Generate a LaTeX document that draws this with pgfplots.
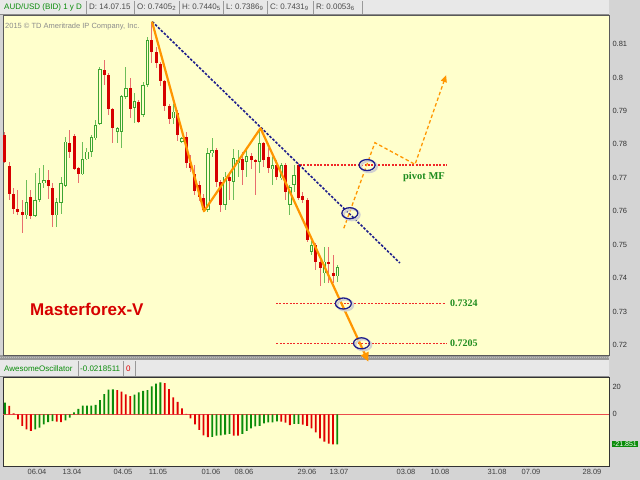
\documentclass[border=0pt]{standalone}
\usepackage{fontspec}
\setmainfont{Liberation Sans}
\newfontfamily\tnr{Liberation Serif}
\usepackage{pgfplots}
\usepackage{pgfplotstable}
\pgfplotsset{compat=1.18}
\usetikzlibrary{arrows.meta}

\definecolor{bgy}{RGB}{255,255,204}
\definecolor{frame}{RGB}{212,212,212}
\definecolor{hbar}{RGB}{232,232,232}
\definecolor{cred}{RGB}{214,0,0}
\definecolor{credw}{RGB}{232,110,110}
\definecolor{cgrn}{RGB}{60,165,50}
\definecolor{cgrnw}{RGB}{110,190,90}
\definecolor{aog}{RGB}{10,140,10}
\definecolor{aor}{RGB}{225,0,0}
\definecolor{navy2}{RGB}{30,30,140}
\definecolor{orng}{RGB}{255,150,0}
\definecolor{dotred}{RGB}{240,40,40}
\definecolor{txtg}{RGB}{30,140,30}

% daily candles, i = bar index
\pgfplotstableread{
i O H L C
0 0.7828 0.7838 0.7743 0.7748
1 0.7735 0.7748 0.7633 0.7651
2 0.7653 0.7668 0.7593 0.7606
3 0.7607 0.7663 0.7588 0.7597
4 0.7598 0.7633 0.7534 0.7588
6 0.7641 0.7663 0.7578 0.7587
10 0.7693 0.7723 0.7638 0.7675
11 0.7668 0.7683 0.7554 0.7588
15 0.7805 0.7843 0.7758 0.7778
16 0.7826 0.7830 0.7723 0.7725
17 0.7728 0.7731 0.7683 0.7710
23 0.8022 0.8052 0.7977 0.8008
24 0.8008 0.8012 0.7888 0.7905
25 0.7905 0.7908 0.7803 0.7848
29 0.7968 0.7998 0.7878 0.7905
31 0.7928 0.7933 0.7863 0.7868
34 0.8112 0.8167 0.8042 0.8077
35 0.8077 0.8092 0.8027 0.8042
36 0.8039 0.8047 0.7975 0.7989
37 0.7989 0.7992 0.7900 0.7916
38 0.7916 0.7920 0.7860 0.7876
40 0.7893 0.7903 0.7810 0.7828
42 0.7823 0.7838 0.7728 0.7743
43 0.7743 0.7768 0.7718 0.7728
44 0.7710 0.7738 0.7648 0.7660
45 0.7679 0.7690 0.7630 0.7644
46 0.7639 0.7653 0.7599 0.7604
49 0.7783 0.7788 0.7673 0.7688
50 0.7688 0.7693 0.7599 0.7619
52 0.7703 0.7718 0.7634 0.7691
55 0.7755 0.7778 0.7678 0.7723
57 0.7765 0.7775 0.7725 0.7753
58 0.7753 0.7755 0.7648 0.7748
60 0.7803 0.7808 0.7733 0.7753
61 0.7763 0.7788 0.7713 0.7728
63 0.7738 0.7753 0.7693 0.7703
65 0.7738 0.7743 0.7634 0.7658
68 0.7738 0.7743 0.7633 0.7641
69 0.7645 0.7658 0.7625 0.7635
70 0.7633 0.7638 0.7508 0.7514
72 0.7499 0.7504 0.7423 0.7449
73 0.7449 0.7454 0.7375 0.7429
75 0.7449 0.7494 0.7384 0.7442
76 0.7414 0.7469 0.7384 0.7406
}\redc

\pgfplotstableread{
i O H L C
5 0.7588 0.7693 0.7578 0.7628
7 0.7587 0.7713 0.7584 0.7633
8 0.7633 0.7728 0.7628 0.7683
9 0.7683 0.7738 0.7668 0.7693
12 0.7588 0.7638 0.7554 0.7628
13 0.7626 0.7703 0.7593 0.7683
14 0.7675 0.7823 0.7673 0.7808
18 0.7710 0.7808 0.7708 0.7755
19 0.7755 0.7788 0.7753 0.7778
20 0.7778 0.7828 0.7763 0.7821
21 0.7818 0.7873 0.7813 0.7858
22 0.7861 0.8032 0.7858 0.8024
26 0.7838 0.7853 0.7803 0.7848
27 0.7838 0.7948 0.7788 0.7943
28 0.7941 0.8032 0.7935 0.7968
30 0.7908 0.7953 0.7863 0.7930
32 0.7888 0.7987 0.7883 0.7977
33 0.7977 0.8122 0.7972 0.8112
39 0.7878 0.7920 0.7860 0.7898
41 0.7808 0.7823 0.7803 0.7818
47 0.7604 0.7788 0.7599 0.7773
48 0.7773 0.7818 0.7763 0.7783
51 0.7619 0.7718 0.7603 0.7703
53 0.7688 0.7785 0.7634 0.7758
54 0.7743 0.7783 0.7703 0.7753
56 0.7748 0.7788 0.7703 0.7765
59 0.7748 0.7848 0.7713 0.7803
62 0.7725 0.7763 0.7679 0.7738
64 0.7698 0.7743 0.7693 0.7738
66 0.7619 0.7678 0.7589 0.7673
67 0.7678 0.7738 0.7658 0.7708
71 0.7479 0.7510 0.7468 0.7499
74 0.7414 0.7494 0.7384 0.7449
77 0.74052 0.74405 0.73869 0.74319
}\grnc

\newcommand{\sm}[1]{{\fontsize{6bp}{6bp}\selectfont\raisebox{-1bp}{#1}}}
\pgfplotsset{candle/.style={draw=none, mark=none, forget plot,
    error bars/.cd, y dir=both, y explicit, error mark=none,
    error bar style={#1}},
  level/.style={draw=dotred, mark=none, line width=1.3bp, dash pattern=on 2bp off 1.4bp}}

\begin{document}
\begin{tikzpicture}
\useasboundingbox (0,0) rectangle (640bp,480bp);
\fill[frame] (0,0) rectangle (640bp,480bp);

% top header
\fill[hbar] (0,465bp) rectangle (609bp,480bp);
\draw[black!45] (0,465.5bp) -- (609bp,465.5bp);
\foreach \xx in {86,134,179,223,267,313,362}
  \draw[black!40] (\xx bp,466bp) -- (\xx bp,479bp);
\begin{scope}[every node/.style={anchor=west, inner sep=0pt, font=\fontsize{8bp}{9bp}\selectfont, text=black!70}]
  \node[text=aog] at (4bp,473bp) {AUD/USD (BID) 1 y D};
  \node at (89bp,473bp) {D: 14.07.15};
  \node at (137bp,473bp) {O: 0.7405\sm{2}};
  \node at (182bp,473bp) {H: 0.7440\sm{5}};
  \node at (226bp,473bp) {L: 0.7386\sm{9}};
  \node at (270bp,473bp) {C: 0.7431\sm{9}};
  \node at (316bp,473bp) {R: 0.0053\sm{6}};
\end{scope}

% splitter and oscillator header
\fill[black!40] (0,120bp) rectangle (609bp,125bp);
\draw[white!75!black, dash pattern=on 1bp off 1bp] (0,122.5bp) -- (609bp,122.5bp);
\fill[hbar] (0,103bp) rectangle (609bp,120bp);
\draw[black!45] (0,103.5bp) -- (609bp,103.5bp);
\foreach \xx in {78,123,135}
  \draw[black!40] (\xx bp,104bp) -- (\xx bp,119bp);
\begin{scope}[every node/.style={anchor=west, inner sep=0pt, font=\fontsize{8bp}{9bp}\selectfont}]
  \node[text=aog] at (4bp,111.5bp) {AwesomeOscillator};
  \node[text=aog] at (80bp,111.5bp) {-0.0218511};
  \node[text=aor] at (126bp,111.5bp) {0};
\end{scope}

\begin{axis}[
    at={(3bp,465bp)}, anchor=north west,
    scale only axis, width=606bp, height=340bp,
    xmin=-0.46, xmax=139.94, ymin=0.717, ymax=0.81867,
    axis background/.style={fill=bgy},
    axis line style={draw=black!65, line width=0.8bp},
    xtick=\empty,
    ytick={0.72,0.73,0.74,0.75,0.76,0.77,0.78,0.79,0.8,0.81},
    yticklabel pos=right, major tick length=0pt,
    yticklabel style={font=\fontsize{7.5bp}{8bp}\selectfont, text=black!80},
    /pgf/number format/assume math mode=true,
    clip=false,
]
% wicks
\addplot[candle={draw=credw, line width=1bp}]
  table[x=i, y expr={(\thisrow{H}+\thisrow{L})/2}, y error expr={(\thisrow{H}-\thisrow{L})/2}] {\redc};
\addplot[candle={draw=cgrnw, line width=1bp}]
  table[x=i, y expr={(\thisrow{H}+\thisrow{L})/2}, y error expr={(\thisrow{H}-\thisrow{L})/2}] {\grnc};
% bodies
\addplot[candle={draw=cred, line width=3bp}]
  table[x=i, y expr={(\thisrow{O}+\thisrow{C})/2}, y error expr={max(abs(\thisrow{O}-\thisrow{C})/2,0.00015)}] {\redc};
\addplot[candle={draw=cgrn, line width=3.4bp}]
  table[x=i, y expr={(\thisrow{O}+\thisrow{C})/2}, y error expr={max(abs(\thisrow{O}-\thisrow{C})/2,0.00015)}] {\grnc};
\addplot[candle={draw=bgy, line width=1.4bp}]
  table[x=i, y expr={(\thisrow{O}+\thisrow{C})/2}, y error expr={max(abs(\thisrow{O}-\thisrow{C})/2-0.00022,0)}] {\grnc};

% levels
\addplot[level] coordinates {(68.35,0.7738) (102.3,0.7738)};
\addplot[level] coordinates {(62.8,0.73235) (101.9,0.73235)};
\addplot[level] coordinates {(62.9,0.72045) (102.3,0.72045)};

% trend line and wave count
\addplot[navy2, line width=1.6bp, dash pattern=on 2.5bp off 1.6bp] coordinates {(34.1,0.8167) (91.5,0.7445)};
\addplot[orng, line width=2.2bp, line join=round, -{Triangle[length=9bp,width=8bp]}]
  coordinates {(34.06,0.8167) (46.1,0.7600) (59.2,0.7848) (84.2,0.7150)};
\addplot[orng, line width=1.3bp, dash pattern=on 3.5bp off 2.5bp, -{Triangle[length=7bp,width=6bp]}]
  coordinates {(78.5,0.7549) (85.7,0.7805) (95.0,0.7740) (102.2,0.8007)};

% marked points
\addplot[only marks, mark=o, mark size=5.5bp, mark options={xscale=1.45, draw=black!18, fill=none, line width=2bp, xshift=1.3bp, yshift=-1.6bp}]
  coordinates {(79.9,0.7594) (83.9,0.7738) (78.4,0.7324) (82.6,0.7205)};
\addplot[only marks, mark=o, mark size=5.5bp, mark options={xscale=1.45, draw=navy2, fill=none, line width=1.3bp}]
  coordinates {(79.9,0.7594) (83.9,0.7738) (78.4,0.7324) (82.6,0.7205)};

\node[anchor=west, inner sep=0pt, font=\fontsize{7.5bp}{8bp}\selectfont, text=black!45] at (axis cs:0,0.8151) {2015 © TD Ameritrade IP Company, Inc.};
\node[anchor=west, inner sep=0pt, font=\bfseries\fontsize{17bp}{18bp}\selectfont, text=cred] at (axis cs:5.8,0.7305) {Masterforex-V};
\node[anchor=west, inner sep=0pt, font=\tnr\bfseries\fontsize{10.5bp}{11bp}\selectfont, text=txtg] at (axis cs:92.2,0.7702) {pivot MF};
\node[anchor=west, inner sep=0pt, font=\tnr\bfseries\fontsize{10bp}{11bp}\selectfont, text=txtg] at (axis cs:103.1,0.7324) {0.7324};
\node[anchor=west, inner sep=0pt, font=\tnr\bfseries\fontsize{10bp}{11bp}\selectfont, text=txtg] at (axis cs:103.1,0.7205) {0.7205};
\end{axis}

\begin{axis}[
    at={(3bp,103bp)}, anchor=north west,
    scale only axis, width=606bp, height=89bp,
    xmin=-0.46, xmax=139.94, ymin=-37.65, ymax=27.2,
    axis background/.style={fill=bgy},
    axis line style={draw=black!80, line width=0.8bp},
    xtick={7.41,15.52,27.34,35.45,47.73,55.38,69.97,77.39,92.91,100.79,114.0,121.87,136.0},
    xticklabels={06.04,13.04,04.05,11.05,01.06,08.06,29.06,13.07,03.08,10.08,31.08,07.09,28.09},
    ytick={0,20},
    yticklabel pos=right, major tick length=0pt,
    xticklabel style={font=\fontsize{7.5bp}{8bp}\selectfont, text=black!75},
    yticklabel style={font=\fontsize{7.5bp}{8bp}\selectfont, text=black!80},
    /pgf/number format/assume math mode=true,
]
\addplot[aor!70, line width=0.8bp] coordinates {(-0.46,0) (139.94,0)};
\addplot[ybar, bar width=1.8bp, bar shift=0pt, fill=aog, draw=none] coordinates {
(0,8.5)(7,-10.9)(8,-9.7)(9,-7.3)(10,-5.6)(11,-4.9)(14,-4.4)(15,-2.4)(16,1.5)(17,3.9)
(18,6.3)(19,6.3)(20,6.3)(21,6.8)(22,10.4)(23,14.8)(24,18.0)(25,18.2)(30,14.3)(31,16.0)
(32,17.0)(33,17.7)(34,20.4)(35,22.3)(36,23.3)(48,-16.5)(49,-15.5)(50,-15.3)(51,-14.8)
(52,-14.3)(55,-14.3)(56,-12.1)(57,-10.2)(58,-8.7)(59,-8.5)(60,-6.6)(61,-5.8)(62,-5.8)
(63,-5.1)(67,-7.0)(68,-7.0)(77,-21.85)};
\addplot[ybar, bar width=1.8bp, bar shift=0pt, fill=aor, draw=none] coordinates {
(1,6.1)(2,0.7)(3,-3.6)(4,-8.5)(5,-10.9)(6,-12.1)(12,-5.3)(13,-5.6)(26,17.7)(27,16.5)
(28,14.6)(29,13.3)(37,22.8)(38,18.4)(39,12.4)(40,9.0)(41,4.4)(42,0.3)(43,-2.9)(44,-7.3)
(45,-11.4)(46,-15.3)(47,-16.7)(53,-15.5)(54,-15.5)(64,-5.3)(65,-6.1)(66,-7.8)(69,-7.5)
(70,-8.5)(71,-10.2)(72,-13.1)(73,-17.5)(74,-19.9)(75,-21.4)(76,-21.95)};
\end{axis}

\node[fill=aog, text=white, inner sep=1bp, font=\fontsize{7bp}{8bp}\selectfont] at (625bp,36bp) {-21.851};
\end{tikzpicture}
\end{document}
